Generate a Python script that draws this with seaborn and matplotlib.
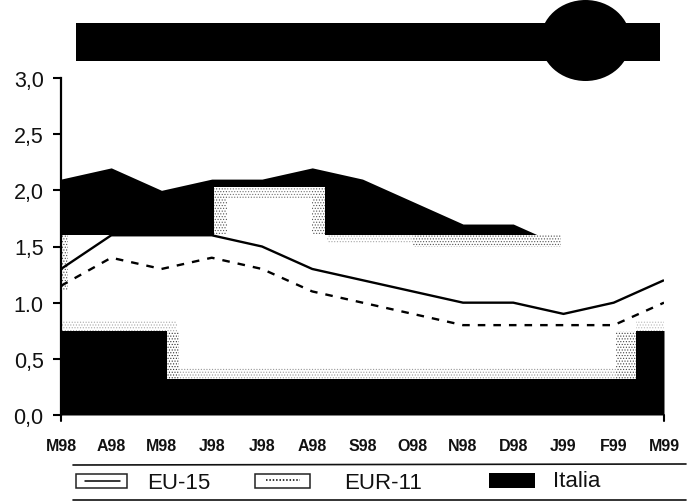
import matplotlib
matplotlib.use("Agg")
import matplotlib.pyplot as plt
from matplotlib.patches import Rectangle, Ellipse
import pandas as pd
import seaborn as sns

# ---------- data ----------
months = ["M98", "A98", "M98", "J98", "J98", "A98", "S98", "O98", "N98", "D98", "J99", "F99", "M99"]
eu15 = [1.3, 1.6, 1.6, 1.6, 1.5, 1.3, 1.2, 1.1, 1.0, 1.0, 0.9, 1.0, 1.2]
eur11 = [1.15, 1.4, 1.3, 1.4, 1.3, 1.1, 1.0, 0.9, 0.8, 0.8, 0.8, 0.8, 1.0]
italia = [2.1, 2.2, 2.0, 2.1, 2.1, 2.2, 2.1, 1.9, 1.7, 1.7, 1.5, 1.5, 1.5]
y_labels = ["0,0", "0,5", "1.0", "1,5", "2,0", "2,5", "3,0"]
y_ticks = [0.0, 0.5, 1.0, 1.5, 2.0, 2.5, 3.0]

# washed-out (photocopied) band inside the Italia area
band_x = [0.0, 2.1, 3.05, 5.25, 11.44, 12.1]
band_low = [0.75, 0.32, 0.32, 0.32, 0.75, 0.75]
band_high = [1.6, 1.6, 2.03, 1.6, 1.6, 1.6]
# stippled strips: (x from, x to, y from, y to, darkness)
strips = [
    (0.0, 2.3, 0.75, 0.85, "#aaaaaa"),
    (2.3, 11.05, 0.32, 0.42, "#999999"),
    (11.44, 12.0, 0.75, 0.84, "#bbbbbb"),
    (2.1, 2.35, 0.32, 0.75, "#333333"),
    (11.05, 11.44, 0.32, 0.75, "#444444"),
    (3.05, 3.3, 1.6, 2.03, "#555555"),
    (5.0, 5.25, 1.6, 2.03, "#555555"),
    (3.3, 5.0, 1.93, 2.03, "#777777"),
    (5.3, 7.0, 1.53, 1.6, "#aaaaaa"),
    (7.0, 9.95, 1.5, 1.6, "#555555"),
    (0.0, 0.14, 1.1, 1.6, "#444444"),
]

W, H = 692, 502
sns.set_theme(style="white", rc={"hatch.linewidth": 0.5})
plt.rcParams["font.family"] = ["Liberation Sans", "DejaVu Sans"]

fig = plt.figure(figsize=(W / 100, H / 100), dpi=100, facecolor="white")
L, R, T, B = 61, 664, 79, 416
ax = fig.add_axes([L / W, 1 - B / H, (R - L) / W, (B - T) / H])
ax.set_facecolor("none")
x = list(range(len(months)))

ax.fill_between(x, 0, italia, color="black", lw=0, zorder=1)
ax.fill_between(band_x, band_low, band_high, step="post", color="white", lw=0,
                zorder=2, clip_on=False)
for x0, x1, y0, y1, shade in strips:
    ax.fill_between([x0, x1], [y0, y0], [y1, y1], facecolor="white", edgecolor=shade,
                    hatch="......", lw=0, zorder=3)

df = pd.DataFrame({"x": x * 2, "y": eu15 + eur11,
                   "serie": ["EU-15"] * len(x) + ["EUR-11"] * len(x)})
sns.lineplot(data=df, x="x", y="y", hue="serie", style="serie",
             palette={"EU-15": "black", "EUR-11": "black"},
             dashes={"EU-15": (1, 0), "EUR-11": (3.2, 3.4)},
             lw=1.7, legend=False, ax=ax, zorder=5, errorbar=None)

ax.set_xlim(0, 12)
ax.set_ylim(0, 3)
ax.set_xlabel("")
ax.set_ylabel("")
ax.set_yticks(y_ticks, y_labels, fontsize=15.5, color="#111111")
ax.set_xticks(x, months, fontsize=11.5, fontweight="bold", color="#111111")
ax.tick_params(axis="y", left=True, length=6, width=1.5, pad=6.5, color="black")
ax.tick_params(axis="x", bottom=False, pad=10.5)
for s in ("top", "right", "bottom"):
    ax.spines[s].set_visible(False)
ax.spines["left"].set_color("black")
ax.spines["left"].set_linewidth(1.6)
ax.spines["left"].set_zorder(6)
ax.plot([0, 0], [-0.05, 0], color="black", lw=1.5, clip_on=False, zorder=6)
ax.plot([12, 12], [-0.05, 0], color="black", lw=1.5, clip_on=False, zorder=6)

# ---------- header block and legend, laid out in image pixels ----------
ov = fig.add_axes([0, 0, 1, 1], zorder=10)
ov.set_xlim(0, W)
ov.set_ylim(H, 0)
ov.axis("off")
ov.patch.set_alpha(0)
ov.add_patch(Rectangle((76, 24), 584, 38, color="black", lw=0))
ov.add_patch(Ellipse((585.5, 41.5), 90, 81, color="black", lw=0))

ov.plot([73, 686], [466, 465], color="#111111", lw=1.2)
ov.plot([73, 686], [501, 501], color="#111111", lw=1.2)
ov.add_patch(Rectangle((75.5, 475), 51, 14, fc="white", ec="#222222", lw=1.1))
ov.plot([85, 120], [482, 482], color="black", lw=1.1)
ov.add_patch(Rectangle((254.5, 475), 55, 14, fc="white", ec="#222222", lw=1.1))
ov.plot([266, 300], [481, 481], color="black", lw=1.1, ls=(0, (1, 1.2)))
ov.add_patch(Rectangle((489, 474), 46, 15, color="black", lw=0))
legend_style = dict(fontsize=16, va="center", ha="left", color="#111111")
ov.text(147, 484, "EU-15", **legend_style)
ov.text(344, 484, "EUR-11", **legend_style)
ov.text(553, 482, "Italia", **legend_style)

fig.savefig("out.png", dpi=100, facecolor="white")
